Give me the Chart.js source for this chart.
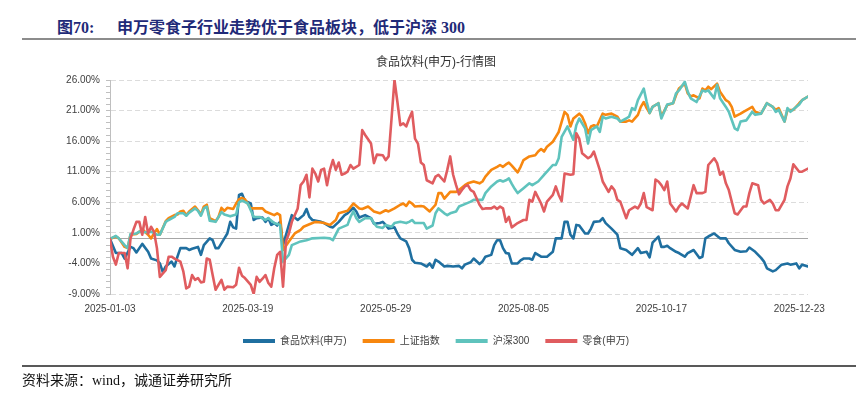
<!DOCTYPE html>
<html lang="zh-CN">
<head>
<meta charset="utf-8">
<title>食品饮料(申万)-行情图</title>
<script src="https://cdn.jsdelivr.net/npm/chart.js@4.4.1/dist/chart.umd.min.js"></script>
<style>
  html, body { margin: 0; padding: 0; background: #fff; }
  #page { position: relative; width: 856px; height: 397px; overflow: hidden; }
  #chart { position: absolute; left: 0; top: 0; }
  .fig { position: absolute; top: 17px; font: bold 16px/22px "Liberation Serif", "Noto Sans CJK SC", serif; color: #1f2a78; white-space: nowrap; }
  .rule { position: absolute; left: 22px; right: 0; height: 0; }
  .rule.top { top: 38px; border-top: 2px solid #8c8c8c; }
  .rule.bottom { top: 365px; border-top: 2px solid #595959; }
  .source { position: absolute; left: 22px; top: 371px; font: 14px/20px "Liberation Serif", "Noto Sans CJK SC", serif; color: #111; white-space: nowrap; }
</style>
</head>
<body>
<div id="page">
  <div class="fig" style="left:57px">图70:</div>
  <div class="fig" style="left:117px">申万零食子行业走势优于食品板块，低于沪深 300</div>
  <div class="rule top"></div>
  <canvas id="chart" width="856" height="397"></canvas>
  <div class="rule bottom"></div>
  <div class="source">资料来源：wind，诚通证券研究所</div>
</div>
<script>
// trading-day index (0 = 2025-01-03) and cumulative return in %
const tickDays = [0, 47, 94, 141, 188, 235];
const tickLabels = ['2025-01-03', '2025-03-19', '2025-05-29', '2025-08-05', '2025-10-17', '2025-12-23'];
const yMin = -9;
const yMax = 26;
const yStep = 5;

const seriesNames = ['食品饮料(申万)', '上证指数', '沪深300', '零食(申万)'];
const seriesColors = ['#1f6fa0', '#f7870f', '#5fc3bd', '#e05c5f'];

const foodSeries = [[0,0],[2,-2.3],[4,-2.3],[5,-3.2],[7,-1.3],[8,-1.5],[9,-2.2],[11,-0.8],[13,-2.1],[14,-3.2],[16,-3.5],[17,-4.0],[18,-5.4],[19,-4.5],[21,-3.7],[22,-4.5],[23,-2.9],[24,-1.5],[26,-1.5],[27,-1.8],[28,-1.6],[30,-1.3],[31,-2.6],[32,-1.0],[34,0.1],[35,-0.2],[36,-1.5],[37,-1.5],[39,0.1],[40,0.9],[41,2.8],[42,1.9],[43,1.7],[44,7.2],[45,7.4],[46,6.2],[48,5.8],[49,3.1],[50,3.4],[52,3.5],[53,2.8],[54,3.4],[55,2.3],[56,2.6],[57,2.2],[58,2.8],[59,-1.0],[61,2.3],[62,3.9],[64,3.1],[66,3.9],[67,4.9],[68,3.6],[69,3.1],[72,2.8],[73,2.6],[75,2.0],[76,1.9],[78,2.8],[80,3.9],[81,4.2],[83,5.1],[84,4.5],[85,3.5],[87,3.9],[89,3.4],[90,2.5],[92,2.6],[93,2.8],[94,2.3],[95,1.7],[97,1.9],[98,0.9],[99,0.1],[101,-0.4],[102,-1.5],[103,-3.4],[104,-3.9],[106,-4.0],[108,-4.5],[109,-4.0],[110,-4.7],[111,-3.4],[112,-3.7],[114,-4.5],[115,-4.4],[117,-4.5],[119,-4.4],[120,-4.8],[121,-4.2],[123,-3.8],[124,-3.2],[126,-4.1],[127,-3.7],[128,-2.9],[130,-2.6],[131,-1.0],[132,-0.2],[133,-0.2],[134,-1.5],[135,-2.3],[136,-2.4],[137,-4.0],[139,-4.0],[140,-3.5],[141,-3.2],[143,-3.2],[144,-3.4],[145,-2.3],[147,-2.9],[149,-2.9],[151,-2.1],[152,0.1],[154,0.1],[155,2.8],[156,2.8],[157,0.7],[158,0.1],[159,2.3],[160,2.2],[162,0.9],[163,0.9],[164,1.7],[165,2.8],[167,2.9],[168,3.4],[169,2.6],[171,1.7],[173,0.7],[174,-1.5],[176,-1.8],[178,-2.6],[180,-1.5],[181,-2.3],[183,-2.1],[184,-3.0],[185,-0.6],[187,0.4],[188,-1.3],[189,-1.3],[190,-1.1],[191,-1.5],[193,-2.1],[194,-2.3],[196,-2.9],[197,-2.3],[199,-1.8],[201,-3.1],[202,-2.9],[203,0.1],[204,0.4],[206,0.9],[208,0.1],[210,0.1],[211,-0.7],[213,-1.8],[215,-2.1],[217,-2.0],[218,-1.4],[220,-2.1],[222,-3.1],[223,-3.7],[224,-4.8],[226,-5.3],[227,-5.1],[229,-4.2],[231,-4.0],[232,-4.2],[234,-4.0],[235,-4.8],[236,-4.2],[238,-4.5]];

const shanghaiSeries = [[0,0],[2,0.4],[3,0.1],[5,-1.3],[6,-1.5],[7,0.7],[9,0.8],[10,1.2],[11,1.6],[13,0.7],[14,0.1],[15,0.9],[16,1.6],[17,0.7],[19,2.9],[20,3.4],[22,3.9],[23,4.0],[24,4.5],[25,4.6],[26,3.9],[27,4.5],[29,5.3],[30,4.7],[31,4.0],[32,5.3],[33,5.6],[34,3.4],[36,2.9],[37,3.6],[38,5.1],[39,4.6],[40,5.1],[42,4.9],[43,5.8],[44,6.5],[45,6.7],[46,6.5],[48,5.0],[50,5.0],[52,5.0],[53,4.5],[56,3.9],[57,4.2],[58,3.9],[59,-1.8],[61,-0.4],[63,0.9],[65,1.5],[66,2.0],[68,2.4],[70,2.8],[72,2.7],[73,2.6],[75,2.3],[77,3.1],[78,4.2],[81,4.6],[83,5.8],[85,5.0],[86,4.9],[88,5.3],[90,4.5],[92,4.2],[94,4.7],[95,4.5],[97,5.0],[99,5.6],[100,5.8],[101,5.4],[102,6.1],[103,5.8],[104,5.3],[106,5.4],[107,5.3],[109,4.5],[111,5.6],[112,7.5],[113,7.5],[114,6.6],[116,7.7],[118,7.7],[119,8.0],[121,8.8],[122,9.1],[124,9.4],[126,9.1],[127,9.4],[128,10.2],[130,11.3],[132,11.8],[133,12.1],[134,11.8],[135,12.2],[136,12.5],[137,12.0],[139,10.9],[140,11.8],[141,12.9],[143,13.5],[145,13.7],[146,14.3],[147,14.7],[148,14.3],[149,15.1],[151,15.9],[152,16.7],[153,17.5],[155,20.8],[156,20.3],[157,18.4],[158,19.7],[160,20.5],[161,20.0],[162,18.9],[163,17.3],[164,18.4],[165,18.6],[166,18.4],[168,20.5],[169,20.3],[171,20.5],[173,20.0],[174,19.2],[176,19.2],[177,19.4],[178,19.2],[180,20.3],[181,21.6],[182,22.4],[183,21.4],[184,20.6],[185,21.6],[187,22.2],[188,20.0],[190,21.9],[192,22.2],[193,23.5],[194,24.6],[196,25.4],[197,23.8],[198,23.3],[199,23.5],[201,23.0],[202,24.6],[203,24.3],[204,24.9],[205,24.5],[207,25.4],[208,24.1],[210,22.7],[211,22.4],[212,21.6],[213,20.0],[215,20.5],[216,20.8],[219,21.6],[220,20.8],[222,20.5],[224,22.2],[226,21.6],[227,21.1],[228,21.4],[230,19.2],[231,21.1],[233,21.1],[235,22.2],[236,22.7],[238,23.3]];

const hs300Series = [[0,0],[2,0.5],[3,0.1],[5,-1.0],[6,-1.5],[7,0.8],[9,0.9],[10,1.2],[12,1.1],[14,1.2],[16,0.7],[17,0.7],[19,2.8],[20,3.1],[22,3.6],[23,4.2],[25,4.2],[26,3.8],[27,4.3],[29,5.0],[30,4.6],[31,3.8],[32,5.0],[33,5.3],[34,3.0],[36,2.8],[38,4.4],[39,4.0],[41,3.7],[43,4.0],[44,6.0],[45,6.3],[47,5.8],[49,3.6],[51,3.6],[53,3.1],[54,3.4],[56,2.6],[58,2.3],[59,-3.7],[61,-2.6],[62,-1.0],[65,-0.4],[67,-0.2],[69,0.1],[73,0.2],[75,0.1],[76,-0.2],[78,1.7],[81,2.3],[82,3.6],[83,4.5],[84,3.4],[85,2.8],[87,3.4],[89,3.4],[90,2.6],[91,2.0],[93,1.8],[94,2.3],[96,2.0],[97,2.6],[99,2.8],[101,2.6],[102,2.8],[103,3.1],[104,2.6],[107,2.6],[108,1.7],[110,2.2],[111,4.2],[112,5.0],[114,4.2],[115,3.9],[116,4.2],[118,4.5],[119,5.3],[121,5.7],[123,6.1],[124,6.4],[127,6.4],[128,7.5],[130,8.6],[132,9.4],[133,9.6],[134,9.4],[135,9.6],[136,9.9],[137,9.0],[138,8.2],[139,7.5],[141,8.3],[143,9.1],[144,8.8],[146,9.4],[148,10.5],[149,11.0],[151,12.1],[152,12.1],[153,13.2],[154,16.7],[156,18.4],[158,16.2],[159,18.6],[160,19.7],[162,18.1],[163,15.6],[164,17.8],[166,18.4],[167,17.5],[168,20.0],[169,19.7],[171,20.0],[173,19.7],[174,19.2],[176,19.7],[177,20.0],[178,21.4],[179,21.1],[180,22.7],[182,24.6],[183,22.4],[184,20.6],[185,21.6],[187,22.2],[188,19.7],[190,22.0],[192,22.2],[193,23.8],[194,24.3],[196,25.7],[197,24.1],[198,23.0],[200,22.4],[202,24.3],[203,24.1],[204,24.3],[206,23.0],[207,25.2],[208,23.0],[210,21.6],[211,20.8],[213,18.1],[214,17.8],[215,19.2],[217,19.4],[219,20.8],[220,20.3],[222,20.5],[224,22.2],[226,21.6],[227,20.8],[228,21.1],[230,19.2],[231,21.4],[232,20.8],[235,22.0],[236,22.7],[238,23.3]];

const snackSeries = [[0,0],[1,-2.9],[2,-4.2],[3,-2.3],[5,-2.3],[6,-4.8],[7,0.1],[8,1.5],[9,2.8],[10,2.8],[11,0.7],[12,3.6],[13,0.9],[14,2.0],[15,1.2],[16,-1.5],[17,-6.2],[19,-5.1],[20,-2.9],[21,-2.9],[22,-3.2],[24,-3.7],[25,-5.3],[26,-8.1],[27,-7.8],[28,-5.9],[29,-6.7],[30,-6.4],[31,-7.1],[32,-7.0],[33,-3.2],[34,-3.4],[35,-5.9],[36,-8.3],[38,-6.7],[39,-8.3],[40,-7.8],[42,-7.9],[43,-7.5],[44,-4.7],[45,-6.0],[46,-6.4],[48,-7.5],[49,-9.0],[50,-6.2],[51,-7.0],[52,-6.5],[53,-5.9],[54,-7.2],[55,-7.8],[56,-4.8],[57,-2.6],[58,-2.1],[59,-7.8],[60,-0.4],[61,0.9],[62,2.8],[64,5.0],[65,8.8],[66,9.4],[67,10.5],[68,6.8],[69,11.5],[70,10.7],[71,9.4],[72,11.3],[73,11.5],[74,8.8],[75,11.3],[76,12.9],[77,11.3],[78,12.5],[79,10.5],[80,10.7],[81,11.0],[82,12.1],[83,11.5],[85,12.1],[86,17.8],[87,17.0],[89,15.6],[90,12.4],[91,13.8],[93,13.7],[94,12.9],[95,13.5],[96,19.7],[97,26.0],[98,22.4],[99,18.6],[100,18.9],[101,18.4],[102,19.7],[103,20.8],[104,16.4],[105,15.6],[106,12.5],[107,12.1],[108,9.6],[110,9.1],[111,10.2],[112,10.5],[114,9.4],[115,11.3],[116,13.5],[117,10.5],[118,8.8],[119,7.3],[120,8.0],[121,8.6],[122,8.8],[123,8.0],[124,7.7],[126,5.6],[127,4.9],[128,5.0],[130,5.0],[131,5.3],[132,4.9],[133,5.3],[134,5.0],[135,2.8],[136,3.6],[137,1.9],[139,2.6],[141,3.1],[142,3.1],[143,6.4],[144,6.1],[145,7.7],[147,5.8],[148,4.5],[149,6.1],[151,7.2],[152,8.6],[153,7.2],[154,6.2],[155,10.7],[157,10.5],[158,10.6],[159,17.3],[160,16.4],[161,14.0],[163,13.2],[164,13.5],[165,14.3],[167,11.3],[168,9.4],[170,7.7],[171,8.6],[172,8.0],[173,6.4],[174,6.1],[176,3.4],[177,4.7],[179,5.3],[180,5.0],[181,5.8],[182,7.5],[183,5.2],[185,4.7],[186,9.7],[187,9.4],[188,8.8],[189,8.0],[190,9.4],[191,5.8],[193,4.5],[194,5.3],[195,5.8],[197,5.0],[198,6.9],[199,8.8],[200,7.5],[202,7.5],[203,7.7],[204,12.1],[206,13.2],[207,12.4],[208,10.5],[209,11.0],[210,9.1],[211,8.0],[213,4.2],[214,4.0],[216,5.3],[217,5.3],[218,7.5],[219,9.1],[221,8.8],[222,6.4],[223,5.8],[224,6.1],[225,6.4],[226,5.8],[227,4.7],[228,4.7],[230,6.4],[231,8.6],[232,9.9],[233,12.2],[235,11.0],[236,11.0],[238,11.5]];

const allSeries = [foodSeries, shanghaiSeries, hs300Series, snackSeries];

Chart.defaults.font.family = '"Liberation Sans", "Noto Sans CJK SC", sans-serif';
Chart.defaults.color = '#404040';

// first series is drawn underneath, last one on top
const datasets = allSeries.map((series, idx) => ({
	label: seriesNames[idx],
	data: series.map(([day, value]) => ({ x: day, y: value })),
	borderColor: seriesColors[idx],
	backgroundColor: seriesColors[idx],
	borderWidth: 2.6,
	borderJoinStyle: 'round',
	borderCapStyle: 'round',
	pointRadius: 0,
	tension: 0,
	fill: false,
	order: allSeries.length - idx
}));

const isMajor = v => Math.round(v - yMin) % yStep === 0;

new Chart(document.getElementById('chart'), {
	type: 'line',
	data: { datasets },
	options: {
		responsive: false,
		animation: false,
		layout: { padding: { left: 64, right: 48, top: 48, bottom: 41 } },
		plugins: {
			title: {
				display: true,
				text: '食品饮料(申万)-行情图',
				color: '#333',
				font: { size: 12, weight: 'normal' },
				padding: { top: 7, bottom: 10.6 }
			},
			legend: {
				position: 'bottom',
				labels: {
					usePointStyle: true,
					pointStyle: 'line',
					pointStyleWidth: 32,
					boxHeight: 10,
					padding: 16,
					color: '#404040',
					font: { size: 10 },
					generateLabels: chart => Chart.defaults.plugins.legend.labels.generateLabels(chart)
						.sort((a, b) => a.datasetIndex - b.datasetIndex)
						.map(item => Object.assign(item, { lineWidth: 4, lineCap: 'butt' }))
				}
			},
			tooltip: { enabled: false }
		},
		scales: {
			x: {
				type: 'linear',
				min: 0,
				max: 238,
				afterBuildTicks: scale => { scale.ticks = tickDays.map(v => ({ value: v })); },
				afterFit: scale => { scale.height = 26; },
				ticks: {
					autoSkip: false,
					maxRotation: 0,
					padding: 9,
					font: { size: 10 },
					callback: v => tickLabels[tickDays.indexOf(v)]
				},
				grid: { display: false, drawTicks: false },
				border: { display: false }
			},
			y: {
				min: yMin,
				max: yMax,
				afterFit: scale => { scale.width = 46; },
				ticks: {
					stepSize: 1,
					autoSkip: false,
					padding: 6,
					font: { size: 10 },
					callback: v => isMajor(v) ? v.toFixed(2) + '%' : ''
				},
				grid: {
					color: ctx => ctx.tick.value === 0 ? '#a6a6a6' : (isMajor(ctx.tick.value) ? '#dcdcdc' : 'rgba(0,0,0,0)'),
					lineWidth: 1,
					tickColor: '#bfbfbf',
					tickLength: 4
				},
				border: {
					color: '#bfbfbf',
					dash: ctx => (ctx.tick && ctx.tick.value === 0) ? [] : [5, 3]
				}
			}
		}
	}
});
</script>
</body>
</html>
